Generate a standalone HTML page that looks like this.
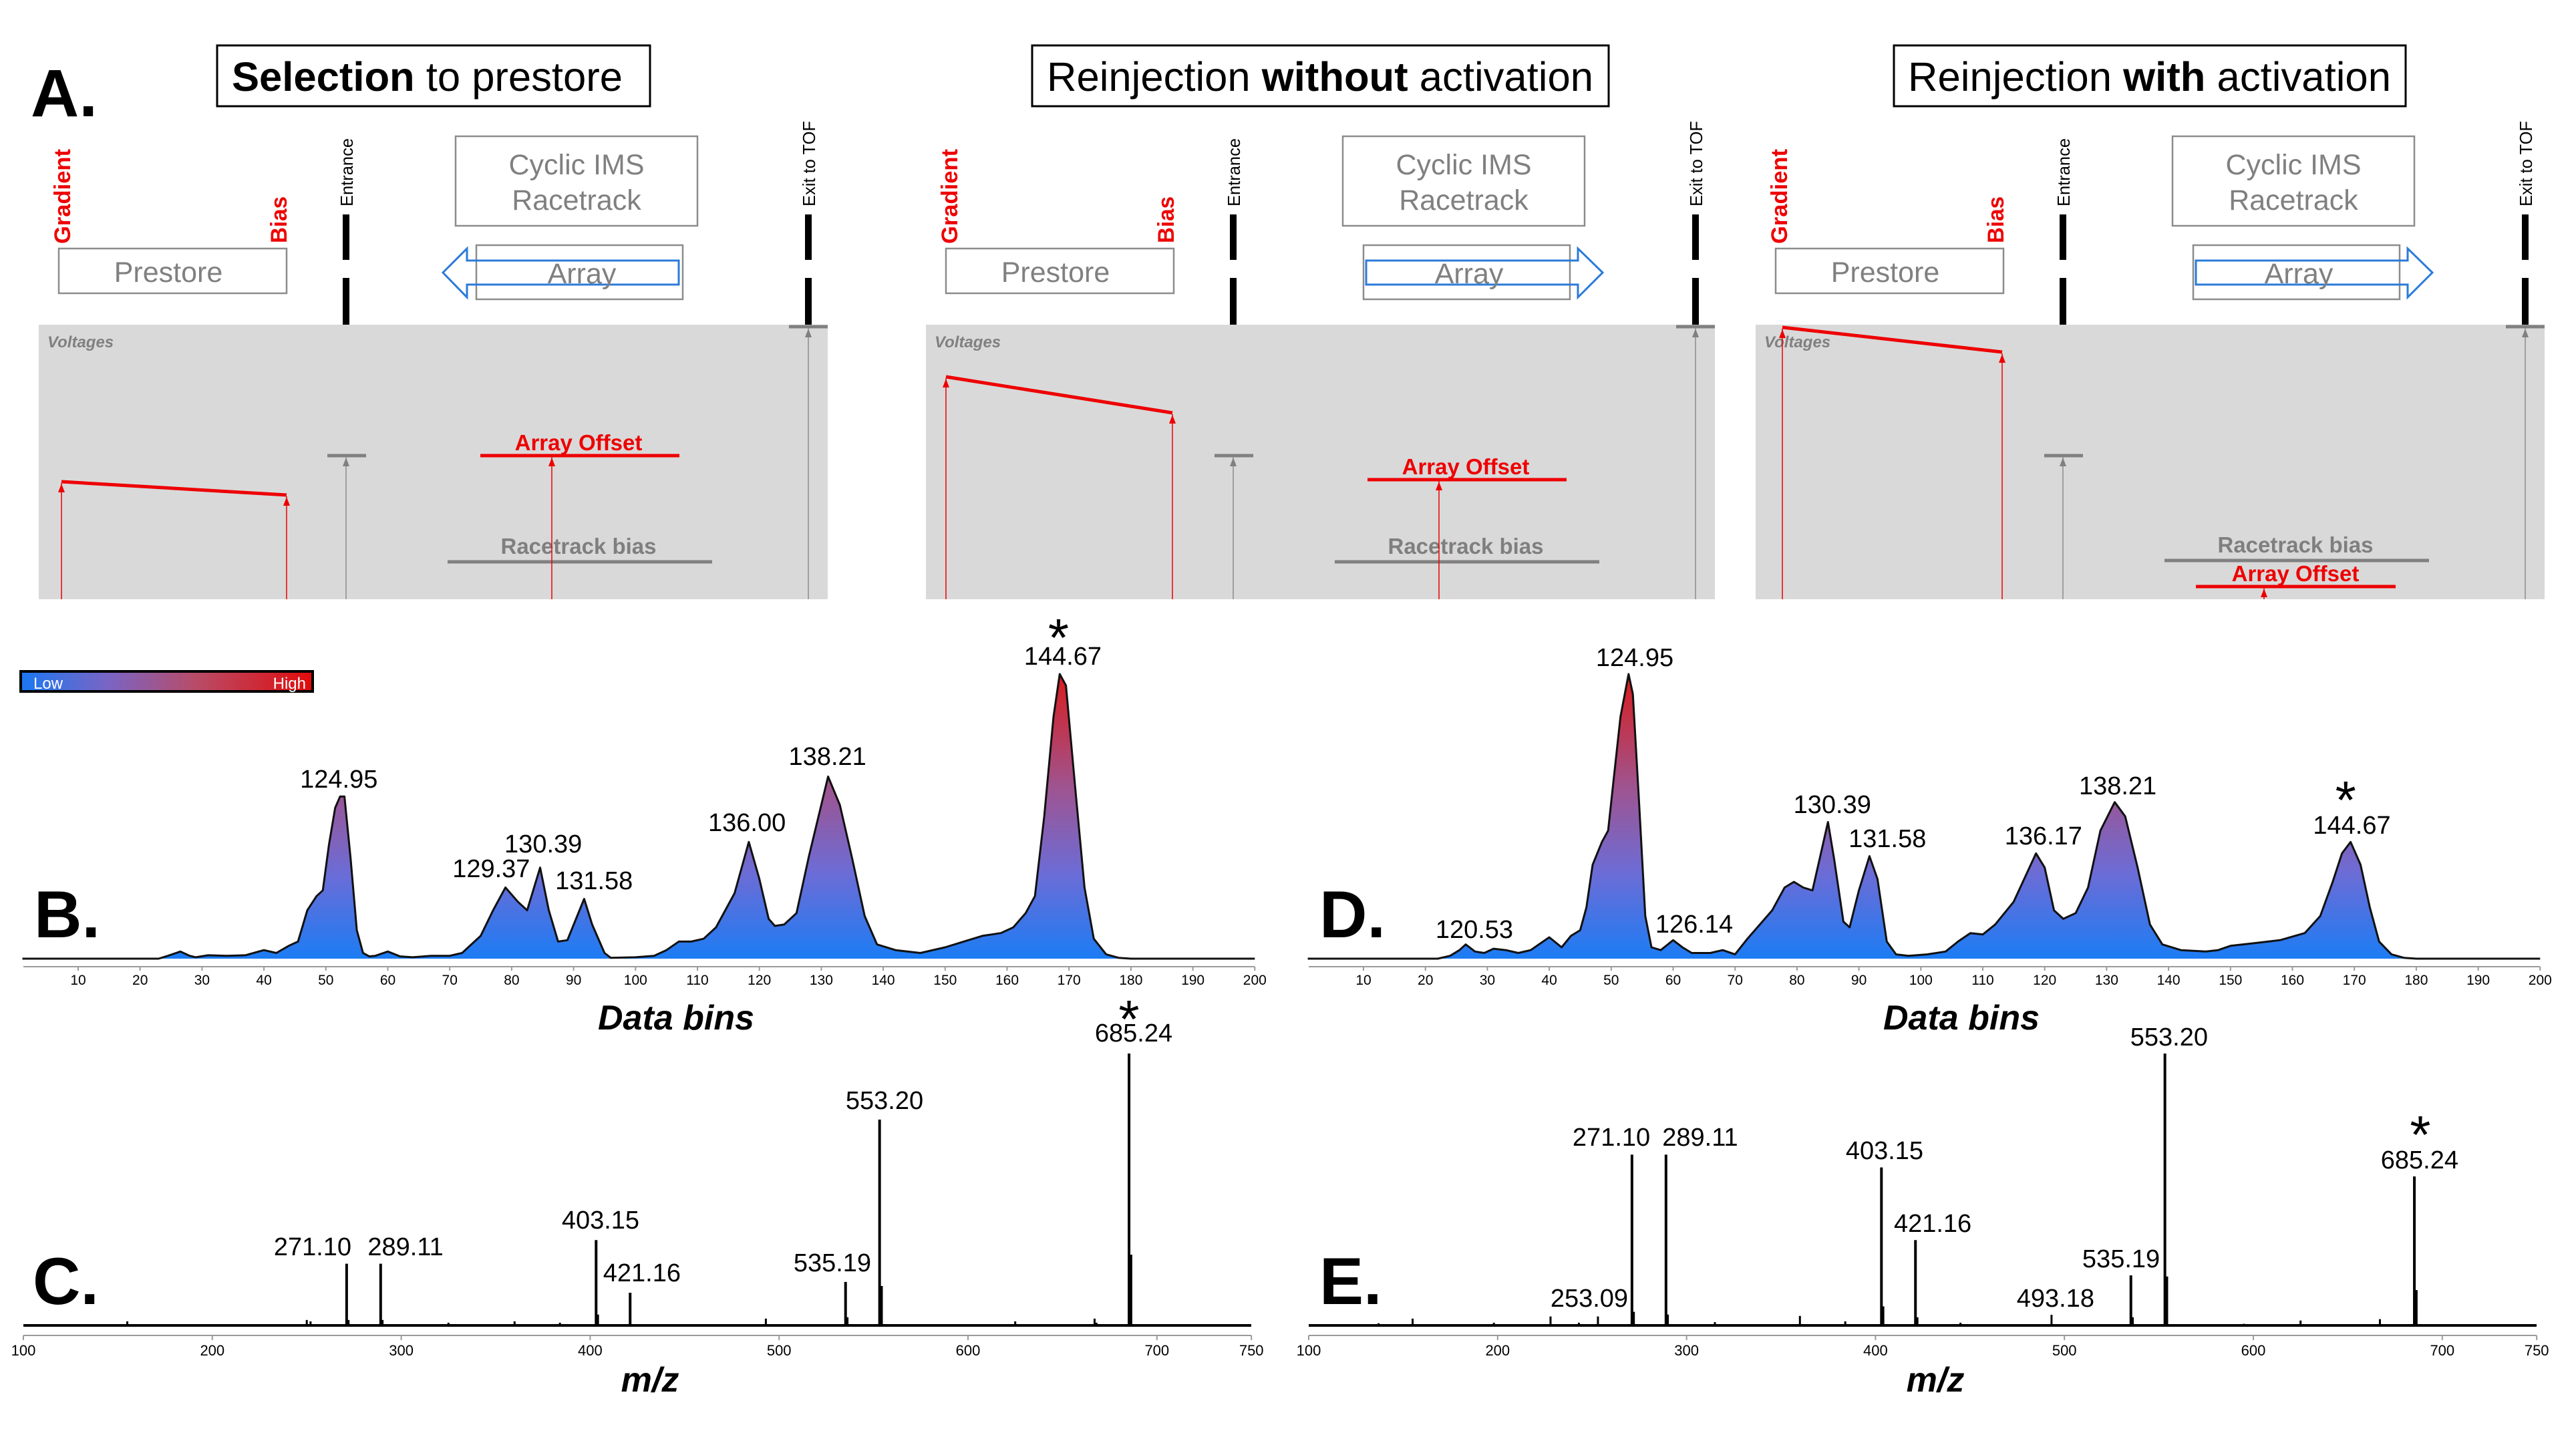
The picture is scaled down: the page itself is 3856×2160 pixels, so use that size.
<!DOCTYPE html>
<html><head><meta charset="utf-8"><style>
html,body{margin:0;padding:0;background:#fff;}
svg{display:block;font-family:"Liberation Sans",sans-serif;}
</style></head><body>
<svg id="fig" width="3856" height="2160" viewBox="0 0 3856 2160" xmlns="http://www.w3.org/2000/svg">
<defs>
<linearGradient id="cbar" x1="0" y1="0" x2="1" y2="0">
<stop offset="0" stop-color="#1a78f2"/><stop offset="0.3" stop-color="#7a64c4"/><stop offset="0.6" stop-color="#b84c68"/><stop offset="1" stop-color="#e00c0c"/>
</linearGradient>
<linearGradient id="heat" gradientUnits="userSpaceOnUse" x1="0" y1="1435" x2="0" y2="1009">
<stop offset="0" stop-color="#1c7cf4"/><stop offset="0.3" stop-color="#6c6cd6"/><stop offset="0.6" stop-color="#9e5490"/><stop offset="1" stop-color="#da1c1c"/>
</linearGradient>
</defs>

<!-- Panel A -->
<text x="46" y="174" font-size="100" font-weight="bold">A.</text>

<rect x="325" y="68" width="648" height="91" fill="none" stroke="#000" stroke-width="3"/>
<text x="347" y="136" font-size="61" textLength="585" lengthAdjust="spacingAndGlyphs"><tspan font-weight="bold">Selection</tspan> to prestore</text>
<rect x="1545" y="68" width="863" height="91" fill="none" stroke="#000" stroke-width="3"/>
<text x="1567" y="136" font-size="61" textLength="818" lengthAdjust="spacingAndGlyphs">Reinjection <tspan font-weight="bold">without</tspan> activation</text>
<rect x="2835" y="68" width="766" height="91" fill="none" stroke="#000" stroke-width="3"/>
<text x="2856" y="136" font-size="61" textLength="723" lengthAdjust="spacingAndGlyphs">Reinjection <tspan font-weight="bold">with</tspan> activation</text>

<g id="pA1"></g>
<g id="pA2" transform="translate(1328,0)"></g>
<g id="pA3" transform="translate(2570,0)"></g>

<!-- colour bar -->
<rect x="31" y="1005" width="437" height="30" fill="url(#cbar)" stroke="#000" stroke-width="4"/>
<text x="50" y="1031" font-size="24" fill="#fff">Low</text>
<text x="458" y="1031" font-size="24" fill="#fff" text-anchor="end">High</text>

<text x="51" y="1403" font-size="99" font-weight="bold">B.</text>
<text x="49" y="1952" font-size="99" font-weight="bold">C.</text>
<text x="1975" y="1403" font-size="99" font-weight="bold">D.</text>
<text x="1975" y="1952" font-size="99" font-weight="bold">E.</text>

<g id="chartB"></g>
<g id="chartD"></g>
<g id="chartC"></g>
<g id="chartE"></g>
</svg>
<script>
// ---------- chromatogram data (bins, relative intensity %) ----------
const binsB=[1,23,24.5,26.5,28,29,31,34,37,40,42,44,45.5,47,48.5,49.5,50.5,51.5,52.3,53,54,55,56,57,58,60,62,64,67,70,72,75,77,79,81,82.5,84.6,86,87.5,89,91.7,93,95,96,100,103,105,107,109,111,113,116,118.3,120,121.5,122.5,124,126,128,131.1,133,135,137,139,142,146,150,153,156,159,161,163,164.5,166,167.5,168.5,169.5,171,172.5,174,176,178,180,200];
const intB=[0,0,1,2.5,1,0.5,1.2,1,1.2,3,2,4.5,6,17,22,24,40,53,57,57,35,10,2,0.8,1,2.5,0.8,0.5,1,1,2,8,17,25,20,17,32,17,6,6.5,21,12,2,0.3,0.5,1,3,6,6,7,11,23,41,28,14,11.5,12,16,36,64,54,35,15,5,3,2,4,6,8,9,11,16,22,50,85,100,96,60,25,7,1.5,0.3,0,0];
const binsD=[1,22,24,25.5,26.5,28,29.5,31,33,35,37,39,40,42,43.5,45,46,47,48.5,49.5,50.5,51.5,52.8,53.5,54.5,55.5,56.5,58,60,61.5,63,66,68,70,72,74,76,78,79.5,81,82.5,85,86,87.5,88.5,90,91.7,93,94.5,96,98,101,104,106,108,110,112,115,118.6,120,121.5,123,125,127,129,131.3,133,135,137,139,142,146,148,150,154,158,162,164.5,166.5,168,169.4,171,172.5,174,176,178,180,200];
const intD=[0,0,1,3,5,2.5,2,3.5,3,2,3,6,7.5,4,8,10,18,33,41,45,65,85,100,93,55,15,4,3,6.5,4,2,2,3,1.5,7,12,17,25,27,25,24,48,35,13,11,24,36,28,6,1.5,1,1.5,2.5,6,9,8.5,12,20,37,32,17,14,16,25,45,55,50,32,12,5,3,2.5,3,4.5,5.5,6.5,9,15,27,37,41,33,18,6,1.5,0.3,0,0];
const ticksBins=[10,20,30,40,50,60,70,80,90,100,110,120,130,140,150,160,170,180,190,200];
const labB=["124.95","129.37","130.39","131.58","136.00","138.21","144.67"];
const labBbin=[52.1,76.7,85.1,93.3,118.0,131.0,169.0];
const labBlvl=[60.1,28.6,37.3,24.4,44.8,68.1,103.3];
const labD=["120.53","124.95","126.14","130.39","131.58","136.17","138.21","144.67"];
const labDbin=[27.9,53.8,63.4,85.7,94.6,119.8,131.8,169.6];
const labDlvl=[7.3,102.8,9.2,51.2,39.2,40.1,57.7,43.9];
const starB=[168.3,117.6];
const starD=[168.6,60.6];
// ---------- mass spectra data (m/z, relative intensity %) ----------
const mzC=[155,250,252,271.10,272.1,289.11,290.1,325,360,384,403.15,404.15,421.16,493,535.19,536.2,553.20,554.2,625,667,668,685.24,686.24];
const intC=[1.5,2,1.5,22.7,2,22.7,2,1,1.5,1,31.4,4,12,2.5,16,3,75.7,14.5,1.5,2.5,1,100,26];
const mzE=[137,155,198,228,243,253.09,271.10,272.1,289.11,290.1,315,360,384,403.15,404.15,421.16,422.2,445,493.18,535.19,536.2,553.20,554.2,595,625,667,685.24,686.24];
const intE=[0.8,2.5,1,3.3,1,3.3,62.8,5,62.8,4,1.2,3.5,1.5,58.1,7,31.4,3,1,3.9,18.4,3,100,18,0.6,1.8,2.3,54.8,13];
const ticksMz=[100,200,300,400,500,600,700,750];
const labC=["271.10","289.11","403.15","421.16","535.19","553.20","685.24"];
const labCmz=[253.1,302.3,405.5,427.4,528.2,555.8,687.7];
const labClvl=[25.8,25.8,35.6,16.2,19.9,79.6,104.4];
const labE=["253.09","271.10","289.11","403.15","421.16","493.18","535.19","553.20","685.24"];
const labEmz=[248.5,260.2,307.2,404.8,430.3,495.3,530,555.4,688];
const labElvl=[6.9,66.1,66.1,61.2,34.4,6.9,21.4,103,57.7];
const starC=[685.2,117.7];
const starE=[688.4,75.2];

const NS="http://www.w3.org/2000/svg";
function mk(tag,parent,attrs){const e=document.createElementNS(NS,tag);for(const k in attrs)e.setAttribute(k,attrs[k]);parent.appendChild(e);return e;}
function xBin(b,off){return off+117+(b-10)*9.27;}
function yChr(v){return 1435-v*4.26;}
function xMz(m,off){return off+35+(m-100)*2.828;}
function ySpec(v){return 1984-v*4.07;}

function chrom(id,off,bins,vals,labs,lbin,llvl,star){
  const g=document.getElementById(id);
  let d="M"+xBin(bins[0],off)+","+yChr(0);
  for(let i=0;i<bins.length;i++)d+=" L"+xBin(bins[i],off).toFixed(1)+","+yChr(vals[i]).toFixed(1);
  d+=" L"+xBin(bins[bins.length-1],off)+","+yChr(0)+" Z";
  let el=mk("path",g,{d:d,fill:"url(#heat)",stroke:"none"});
  
  
  let d2="M"+xBin(bins[0],off)+","+yChr(vals[0]);
  for(let i=1;i<bins.length;i++)d2+=" L"+xBin(bins[i],off).toFixed(1)+","+yChr(vals[i]).toFixed(1);
  el=mk("path",g,{d:d2,fill:"none",stroke:"#111","stroke-width":3,"stroke-linejoin":"round"});
  
  
  el=mk("line",g,{x1:off+35,x2:off+1878,y1:1447,y2:1447,stroke:"#9a9a9a","stroke-width":2});
  
  
  for(const t of ticksBins){
    const x=xBin(t,off);
    el=mk("line",g,{x1:x,x2:x,y1:1447,y2:1453,stroke:"#9a9a9a","stroke-width":2});
    
    
    el=mk("text",g,{x:x,y:1474,"font-size":21,"text-anchor":"middle"});
    el.textContent=t;
    
    
  }
  for(let i=0;i<labs.length;i++){
    el=mk("text",g,{x:xBin(lbin[i],off),y:yChr(llvl[i]),"font-size":38,"text-anchor":"middle"});
    el.textContent=labs[i];
    
    
  }
  el=mk("text",g,{x:xBin(star[0],off),y:yChr(star[1])+48,"font-size":80,"text-anchor":"middle"});
  el.textContent="*";
  
  
  el=mk("text",g,{x:off+1012,y:1541,"font-size":52,"font-weight":"bold","font-style":"italic","text-anchor":"middle"});
  el.textContent="Data bins";
  
  
}
function spec(id,off,mz,vals,labs,lmz,llvl,star){
  const g=document.getElementById(id);
  let el=mk("line",g,{x1:off+35,x2:off+1873,y1:1984,y2:1984,stroke:"#000","stroke-width":4});
  
  
  for(let i=0;i<mz.length;i++){
    const x=xMz(mz[i],off);
    el=mk("line",g,{x1:x,x2:x,y1:1984,y2:ySpec(vals[i]),stroke:"#000","stroke-width":vals[i]>10?4:3});
    
    
  }
  el=mk("line",g,{x1:off+35,x2:off+1873,y1:1999,y2:1999,stroke:"#9a9a9a","stroke-width":2});
  
  
  for(const t of ticksMz){
    const x=xMz(t,off);
    el=mk("line",g,{x1:x,x2:x,y1:1999,y2:2006,stroke:"#9a9a9a","stroke-width":2});
    
    
    el=mk("text",g,{x:x,y:2029,"font-size":22,"text-anchor":"middle"});
    el.textContent=t;
    
    
  }
  for(let i=0;i<labs.length;i++){
    el=mk("text",g,{x:xMz(lmz[i],off),y:ySpec(llvl[i]),"font-size":38,"text-anchor":"middle"});
    el.textContent=labs[i];
    
    
  }
  el=mk("text",g,{x:xMz(star[0],off),y:ySpec(star[1])+48,"font-size":80,"text-anchor":"middle"});
  el.textContent="*";
  
  
  el=mk("text",g,{x:off+973,y:2083,"font-size":52,"font-weight":"bold","font-style":"italic","text-anchor":"middle"});
  el.textContent="m/z";
  
  
}
chrom("chartB",0,binsB,intB,labB,labBbin,labBlvl,starB);
chrom("chartD",1924,binsD,intD,labD,labDbin,labDlvl,starD);
spec("chartC",0,mzC,intC,labC,labCmz,labClvl,starC);
spec("chartE",1924,mzE,intE,labE,labEmz,labElvl,starE);

// ---------- diagram panels (local coordinates of first panel) ----------
const redLines=[[92,721,429,741],[88,564,427,618],[98,490,427,527]];
const offsetY=[682,718,878];
const offsetLine=[[719,1017],[719,1017],[717,1016]];
const biasY=[841,841,839];
const arrowDir=[-1,1,1];
function upHead(g,x,y,col){
  const el=mk("polygon",g,{points:(x-5)+","+(y+13)+" "+x+","+y+" "+(x+5)+","+(y+13),fill:col});
  
  
}
function diagram(id,k){
  const g=document.getElementById(id);
  let el;
  el=mk("rect",g,{x:58,y:486,width:1181,height:411,fill:"#d9d9d9"});
  
  
  el=mk("text",g,{x:71,y:520,"font-size":24,"font-weight":"bold","font-style":"italic",fill:"#808080"});
  el.textContent="Voltages";
  
  
  el=mk("text",g,{x:0,y:0,"font-size":34,"font-weight":"bold",fill:"#ee0000",transform:"translate(105,365) rotate(-90)",textLength:142,lengthAdjust:"spacingAndGlyphs"});
  el.textContent="Gradient";
  
  
  el=mk("text",g,{x:0,y:0,"font-size":34,"font-weight":"bold",fill:"#ee0000",transform:"translate(429,364) rotate(-90)",textLength:70,lengthAdjust:"spacingAndGlyphs"});
  el.textContent="Bias";
  
  
  el=mk("rect",g,{x:88,y:372,width:341,height:67,fill:"#fff",stroke:"#8c8c8c","stroke-width":2.5});
  
  
  el=mk("text",g,{x:252,y:422,"font-size":43,fill:"#808080","text-anchor":"middle"});
  el.textContent="Prestore";
  
  
  el=mk("rect",g,{x:682,y:204,width:362,height:134,fill:"#fff",stroke:"#8c8c8c","stroke-width":2.5});
  
  
  el=mk("text",g,{x:863,y:261,"font-size":43,fill:"#808080","text-anchor":"middle"});
  el.textContent="Cyclic IMS";
  
  
  el=mk("text",g,{x:863,y:314,"font-size":43,fill:"#808080","text-anchor":"middle"});
  el.textContent="Racetrack";
  
  
  el=mk("rect",g,{x:713,y:367,width:309,height:81,fill:"#fff",stroke:"#8c8c8c","stroke-width":2.5});
  
  
  let pts;
  if(arrowDir[k]<0) pts="663,408 699,372 699,390 1016,390 1016,426 699,426 699,445";
  else pts="717,390 1034,390 1034,372 1071,408 1034,445 1034,426 717,426";
  el=mk("polygon",g,{points:pts,fill:"none",stroke:"#2b7bd9","stroke-width":3});
  
  
  el=mk("text",g,{x:871,y:424,"font-size":43,fill:"#808080","text-anchor":"middle"});
  el.textContent="Array";
  
  
  // entrance & exit electrodes
  el=mk("text",g,{x:0,y:0,"font-size":26,fill:"#000",transform:"translate(528,309) rotate(-90)",textLength:102,lengthAdjust:"spacingAndGlyphs"});
  el.textContent="Entrance";
  
  
  el=mk("text",g,{x:0,y:0,"font-size":26,fill:"#000",transform:"translate(1220,309) rotate(-90)",textLength:128,lengthAdjust:"spacingAndGlyphs"});
  el.textContent="Exit to TOF";
  
  
  for(const x of [518,1210]){
    el=mk("rect",g,{x:x-5,y:321,width:10,height:68,fill:"#000"});
    
    
    el=mk("rect",g,{x:x-5,y:416,width:10,height:70,fill:"#000"});
    
    
  }
  // gray entrance/exit voltage levels
  el=mk("line",g,{x1:490,x2:548,y1:682,y2:682,stroke:"#808080","stroke-width":5});
  
  
  el=mk("line",g,{x1:518,x2:518,y1:684,y2:897,stroke:"#8c8c8c","stroke-width":1.5});
  
  
  upHead(g,518,685,"#808080");
  el=mk("line",g,{x1:1181,x2:1239,y1:489,y2:489,stroke:"#808080","stroke-width":5});
  
  
  el=mk("line",g,{x1:1210,x2:1210,y1:491,y2:897,stroke:"#8c8c8c","stroke-width":1.5});
  
  
  upHead(g,1210,492,"#808080");
  // prestore gradient
  const r=redLines[k];
  el=mk("line",g,{x1:r[0],y1:r[1],x2:r[2],y2:r[3],stroke:"#ee0000","stroke-width":5});
  
  
  el=mk("line",g,{x1:r[0],x2:r[0],y1:r[1]+2,y2:897,stroke:"#ee0000","stroke-width":1.5});
  
  
  upHead(g,r[0],r[1]+3,"#ee0000");
  el=mk("line",g,{x1:r[2],x2:r[2],y1:r[3]+2,y2:897,stroke:"#ee0000","stroke-width":1.5});
  
  
  upHead(g,r[2],r[3]+3,"#ee0000");
  // racetrack bias
  el=mk("line",g,{x1:670,x2:1066,y1:biasY[k],y2:biasY[k],stroke:"#808080","stroke-width":5});
  
  
  el=mk("text",g,{x:866,y:biasY[k]-12,"font-size":33,"font-weight":"bold",fill:"#7f7f7f","text-anchor":"middle"});
  el.textContent="Racetrack bias";
  
  
  // array offset
  const oy=offsetY[k],ol=offsetLine[k],vx=k===2?819:826;
  el=mk("line",g,{x1:ol[0],x2:ol[1],y1:oy,y2:oy,stroke:"#ee0000","stroke-width":5});
  
  
  el=mk("line",g,{x1:vx,x2:vx,y1:oy+2,y2:897,stroke:"#ee0000","stroke-width":1.5});
  
  
  upHead(g,vx,oy+3,"#ee0000");
  el=mk("text",g,{x:866,y:oy-8,"font-size":33,"font-weight":"bold",fill:"#ee0000","text-anchor":"middle"});
  el.textContent="Array Offset";
  
  
}
diagram("pA1",0);diagram("pA2",1);diagram("pA3",2);
</script>
</body></html>
